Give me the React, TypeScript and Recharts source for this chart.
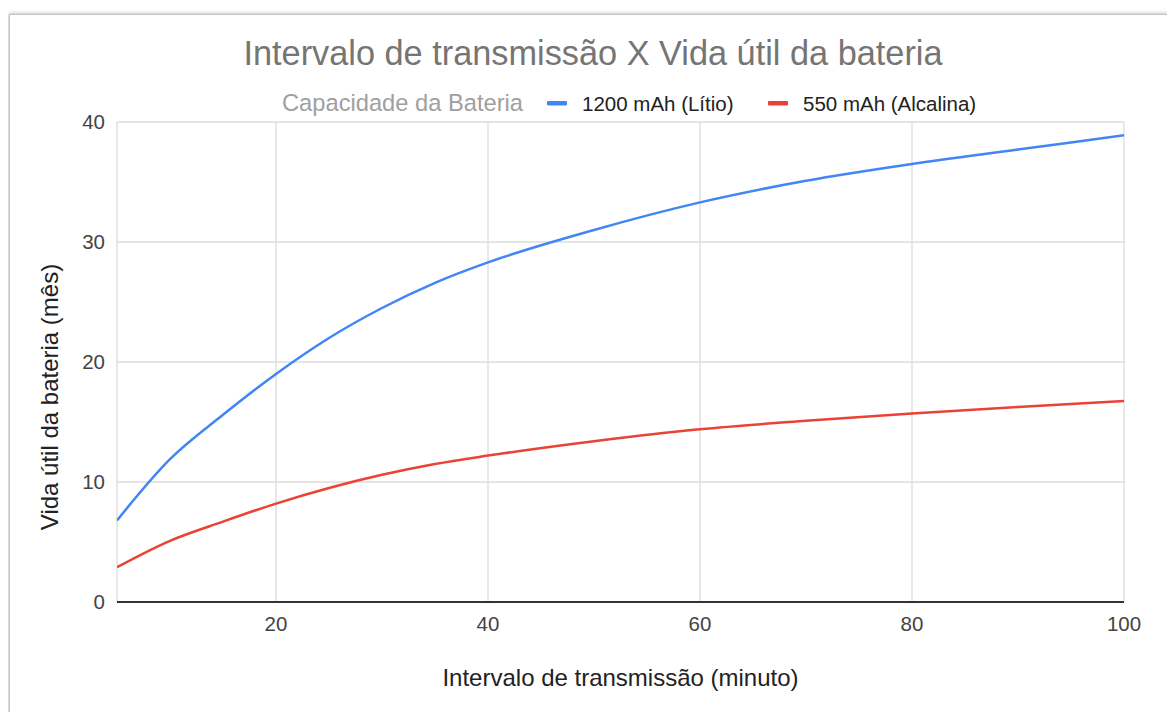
import React from "react";
import { LineChart, Line, XAxis, YAxis, CartesianGrid } from "recharts";

const intervals = [5, 10, 15, 20, 25, 30, 35, 40, 50, 60, 70, 80, 90, 100];
const lithium = [6.8, 11.9, 15.6, 19.0, 22.0, 24.5, 26.6, 28.3, 31.0, 33.3, 35.1, 36.5, 37.7, 38.9];
const alkaline = [2.9, 5.1, 6.7, 8.2, 9.5, 10.6, 11.5, 12.2, 13.4, 14.4, 15.1, 15.7, 16.25, 16.75];
const xTicks = [20, 40, 60, 80, 100];
const yTicks = [0, 10, 20, 30, 40];

const title = "Intervalo de transmissão X Vida útil da bateria";
const legendTitle = "Capacidade da Bateria";
const seriesNames = ["1200 mAh (Lítio)", "550 mAh (Alcalina)"];
const xLabel = "Intervalo de transmissão (minuto)";
const yLabel = "Vida útil da bateria (mês)";

const data = intervals.map((x, i) => ({ x, lithium: lithium[i], alkaline: alkaline[i] }));

const FONT = "'Liberation Sans', Arial, sans-serif";
const BLUE = "#4285F4";
const RED = "#EA4335";

export default function App() {
  return (
    <div style={{ position: "relative", width: 1159, height: 704, overflow: "hidden", fontFamily: FONT }}>
      <div
        style={{
          position: "absolute",
          left: 1,
          top: 6,
          width: 1300,
          height: 900,
          border: "1px solid #c4c4c4",
          boxShadow: "0 0 4px rgba(0,0,0,0.35)",
          background: "#fff",
        }}
      />
      <div style={{ position: "absolute", left: -8, top: -8, width: 1175, height: 720 }}>
        <LineChart width={1175} height={720} data={data} margin={{ top: 122, right: 51, bottom: 88, left: 57 }}>
          <CartesianGrid stroke="#dcdcdc" strokeWidth={1.3} />
          <XAxis
            dataKey="x"
            type="number"
            domain={[5, 100]}
            ticks={xTicks}
            allowDataOverflow
            height={30}
            tickLine={false}
            axisLine={false}
            tickMargin={8}
            tick={{ fill: "#444", fontSize: 20.5, fontFamily: FONT }}
          />
          <YAxis
            type="number"
            domain={[0, 40]}
            ticks={yTicks}
            width={60}
            tickLine={false}
            axisLine={false}
            tickMargin={6}
            tick={{ fill: "#444", fontSize: 20.5, fontFamily: FONT }}
          />
          <Line
            type="monotone"
            dataKey="lithium"
            stroke={BLUE}
            strokeWidth={2.5}
            dot={false}
            isAnimationActive={false}
          />
          <Line
            type="monotone"
            dataKey="alkaline"
            stroke={RED}
            strokeWidth={2.5}
            dot={false}
            isAnimationActive={false}
          />
        </LineChart>
        <svg
          width={1175}
          height={720}
          style={{ position: "absolute", left: 0, top: 0, pointerEvents: "none" }}
          fontFamily={FONT}
        >
          <line x1={117} x2={1124} y1={602} y2={602} stroke="#333" strokeWidth={2} />
          <text x={593} y={65} textAnchor="middle" fontSize={34.3} fill="#757575">
            {title}
          </text>
          <text x={282} y={111} fontSize={23.7} fill="#a0a0a0">
            {legendTitle}
          </text>
          <rect x={547} y={101} width={20} height={4.5} fill={BLUE} rx={1} />
          <text x={582} y={111} fontSize={20.5} fill="#222">
            {seriesNames[0]}
          </text>
          <rect x={768} y={101} width={20} height={4.5} fill={RED} rx={1} />
          <text x={803} y={111} fontSize={20.5} fill="#222">
            {seriesNames[1]}
          </text>
          <text x={620.5} y={686} textAnchor="middle" fontSize={24} fill="#222">
            {xLabel}
          </text>
          <text
            x={0}
            y={0}
            textAnchor="middle"
            fontSize={24}
            fill="#222"
            transform="translate(58,397) rotate(-90)"
          >
            {yLabel}
          </text>
        </svg>
      </div>
    </div>
  );
}
